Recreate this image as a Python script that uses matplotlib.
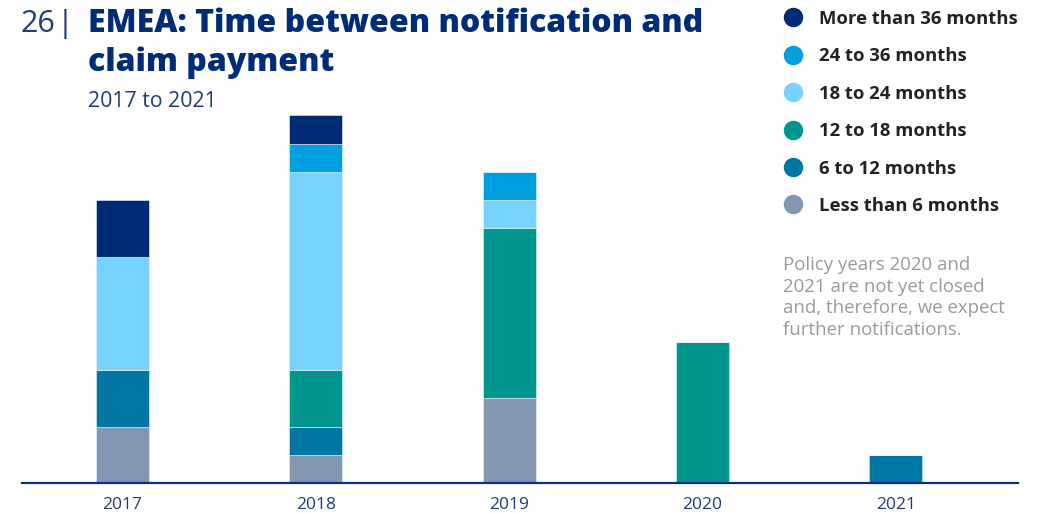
import numpy as np
import matplotlib.pyplot as plt
from matplotlib.lines import Line2D

# Policy years and claim counts per payment delay band
years = ['2017', '2018', '2019', '2020', '2021']
less_6 = [2, 1, 3, 0, 0]
m6_12 = [2, 1, 0, 0, 1]
m12_18 = [0, 2, 6, 5, 0]
m18_24 = [4, 7, 1, 0, 0]
m24_36 = [0, 1, 1, 0, 0]
more_36 = [2, 1, 0, 0, 0]

series = [
    ('Less than 6 months', less_6, '#8396b2'),
    ('6 to 12 months', m6_12, '#0077a2'),
    ('12 to 18 months', m12_18, '#00958f'),
    ('18 to 24 months', m18_24, '#78d2ff'),
    ('24 to 36 months', m24_36, '#009fe0'),
    ('More than 36 months', more_36, '#002b76'),
]

navy = '#002b76'
fig = plt.figure(figsize=(10.47, 5.13), dpi=100)
ax = fig.add_axes([0.021, 0.058, 0.951, 0.7725])

x = np.arange(len(years))
bottom = np.zeros(len(years))
for name, vals, col in series:
    vals = np.array(vals, dtype=float)
    ax.bar(x, vals, width=0.275, bottom=bottom, color=col,
           edgecolor='#e8f4fb', linewidth=0.4, label=name)
    bottom += vals

ax.set_xlim(-0.52, 4.63)
ax.set_ylim(0, 14)
for s in ['top', 'right', 'left']:
    ax.spines[s].set_visible(False)
ax.spines['bottom'].set_color('#0e2f7f')
ax.spines['bottom'].set_linewidth(1.6)
ax.set_yticks([])
ax.set_xticks(x)
ax.set_xticklabels(years, fontsize=12.5, color='#1f3a7a', family='Open Sans')
ax.tick_params(axis='x', length=0, pad=10)

# Titles
fig.text(0.020, 0.937, '26', fontsize=22, color='#1f3d7a', family='Open Sans',
         va='baseline')
fig.text(0.0545, 0.937, '|', fontsize=22, color='#1f3d7a', family='Open Sans',
         va='baseline')
fig.text(0.084, 0.937, 'EMEA: Time between notification and', fontsize=23,
         color=navy, family='Open Sans', weight='heavy', va='baseline')
fig.text(0.084, 0.862, 'claim payment', fontsize=23,
         color=navy, family='Open Sans', weight='heavy', va='baseline')
fig.text(0.084, 0.791, '2017 to 2021', fontsize=15.3, color='#1f3a7a',
         family='Open Sans', va='baseline')

# Legend, top-most band first
handles = [Line2D([], [], marker='o', linestyle='none', markersize=13,
                  markerfacecolor=col, markeredgecolor=col)
           for _, _, col in reversed(series)]
labels = [name for name, _, _ in reversed(series)]
fig.legend(handles, labels, loc='upper left', bbox_to_anchor=(0.742, 0.995),
           frameon=False, prop={'family': 'Open Sans', 'weight': 'bold', 'size': 13.3},
           labelcolor='#222222', handletextpad=0.9, labelspacing=1.05,
           handlelength=1.0, borderaxespad=0)

fig.text(0.748, 0.5,
         'Policy years 2020 and\n2021 are not yet closed\nand, therefore, we expect\nfurther notifications.',
         fontsize=13.4, color='#9a9a9a', family='Open Sans', va='top',
         linespacing=1.24)

fig.savefig('out.png', dpi=100)
